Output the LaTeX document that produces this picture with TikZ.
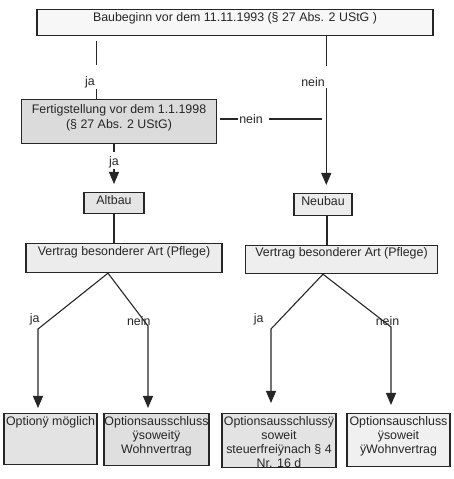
\documentclass[tikz,border=0pt]{standalone}
\usepackage{fontspec}
\setmainfont{Liberation Sans}
\usetikzlibrary{arrows.meta, positioning}

\newcommand{\zeilen}[1]{\begin{tabular}[t]{@{}c@{}}#1\end{tabular}}

\begin{document}
\begin{tikzpicture}
  [x=1pt, y=1pt, color=black!85, line width=1.1pt,
   >={Triangle[length=12pt, width=10pt]},
   font=\fontsize{12.4}{14.3}\selectfont,
   kasten/.style={rectangle, draw, line width=1.2pt, inner sep=0pt, align=center, anchor=north},
   marke/.style={inner sep=1pt},
   pfeil/.style={->, shorten >=5pt}]

  \useasboundingbox (0,0) rectangle (454,479);

  % Kaesten
  \node[kasten, fill=gray!6, minimum width=396pt, text height=12pt, text depth=14pt] (baubeginn) at (235,470) {Baubeginn vor dem 11.11.1993 (§ 27 Abs. 2 UStG )};
  \node[kasten, fill=gray!28, minimum width=195pt, text height=14.3pt, text depth=29.7pt] (fertig) at (119,380) {\zeilen{Fertigstellung vor dem 1.1.1998\\(§ 27 Abs. 2 UStG)}};
  \node[kasten, fill=gray!20, minimum width=60pt, text height=12pt, text depth=9pt] (altbau) at (114,287) {Altbau};
  \node[kasten, fill=gray!15, minimum width=58pt, text height=12pt, text depth=10pt] (neubau) at (323,286) {Neubau};
  \node[kasten, fill=gray!15, minimum width=196pt, text height=12pt, text depth=17pt] (vertragA) at (124,236) {Vertrag besonderer Art (Pflege)};
  \node[kasten, fill=gray!13, minimum width=192pt, text height=11pt, text depth=17pt] (vertragN) at (341.5,234) {Vertrag besonderer Art (Pflege)};

  \node[kasten, fill=gray!22, minimum width=93pt, text height=11.5pt, text depth=39.5pt] (optA) at (50.5,66) {Optionÿ möglich};
  \node[kasten, fill=gray!25, minimum width=105pt, text height=11.5pt, text depth=40.5pt] (optB) at (156.5,66) {\zeilen{Optionsausschluss\\ÿsoweitÿ\\Wohnvertrag}};
  \node[kasten, fill=gray!22, minimum width=114pt, text height=11.5pt, text depth=42.5pt] (optC) at (279,66) {\zeilen{Optionsausschlussÿ\\soweit\\steuerfreiÿnach § 4\\Nr. 16 d}};
  \node[kasten, fill=gray!12, minimum width=103pt, text height=11.5pt, text depth=41.5pt] (optD) at (398.5,66) {\zeilen{Optionsauschluss\\ÿsoweit\\ÿWohnvertrag}};

  % oberer Teil
  \node[marke] (ja1) at (90,397) {ja};
  \node[marke] (nein1) at (313,397) {nein};
  \node[marke] (nein2) at (251,360) {nein};
  \node[marke] (ja3) at (114,317) {ja};

  \draw[shorten <=5pt, shorten >=10pt] (baubeginn.south -| ja1.east) -- (ja1.north east);
  \draw (ja1.south east) -- (fertig.north -| ja1.east);
  \draw[shorten >=10pt] (baubeginn.south -| nein1.east) -- (nein1.north east);
  \draw[pfeil, shorten >=8pt] (nein1.south east) -- (neubau.north -| nein1.east);
  \draw[shorten <=3pt] (fertig.east |- nein2) -- (nein2.west);
  \draw[shorten <=5pt, shorten >=4pt] (nein2.east) -- (nein2 -| nein1.east);
  \draw[shorten >=3pt] (fertig.south -| ja3) -- (ja3.north);
  \draw[pfeil, shorten >=8pt] (ja3.south) -- (altbau.north);

  \draw (altbau.south) -- (altbau.south |- vertragA.north);
  \draw ([xshift=4pt]neubau.south) -- ([xshift=4pt]neubau.south |- vertragN.north);

  % Verzweigungen
  \coordinate (gabelA) at ([xshift=-16pt]vertragA.south);
  \coordinate (knickA1) at (38,150);
  \coordinate (knickA2) at (148,153);
  \coordinate (gabelN) at ([xshift=-18.5pt]vertragN.south);
  \coordinate (knickN1) at (271,150);
  \coordinate (knickN2) at (391,152);

  \node[marke, above left=2pt and -3pt of knickA1] (jaA) {ja};
  \node[marke, above left=-1pt and -4pt of knickA2] (neinA) {nein};
  \node[marke, above left=2pt and 6pt of knickN1] (jaN) {ja};
  \node[marke, above=0pt of knickN2, xshift=-3.5pt] (neinN) {nein};

  \draw[pfeil] (gabelA) -- (knickA1) -- (optA.north -| knickA1);
  \draw[pfeil] (gabelA) -- (knickA2) -- (optB.north -| knickA2);
  \draw[pfeil, shorten >=10pt] (gabelN) -- (knickN1) -- (optC.north -| knickN1);
  \draw[pfeil, shorten >=8pt] (gabelN) -- (knickN2) -- (optD.north -| knickN2);

\end{tikzpicture}
\end{document}
